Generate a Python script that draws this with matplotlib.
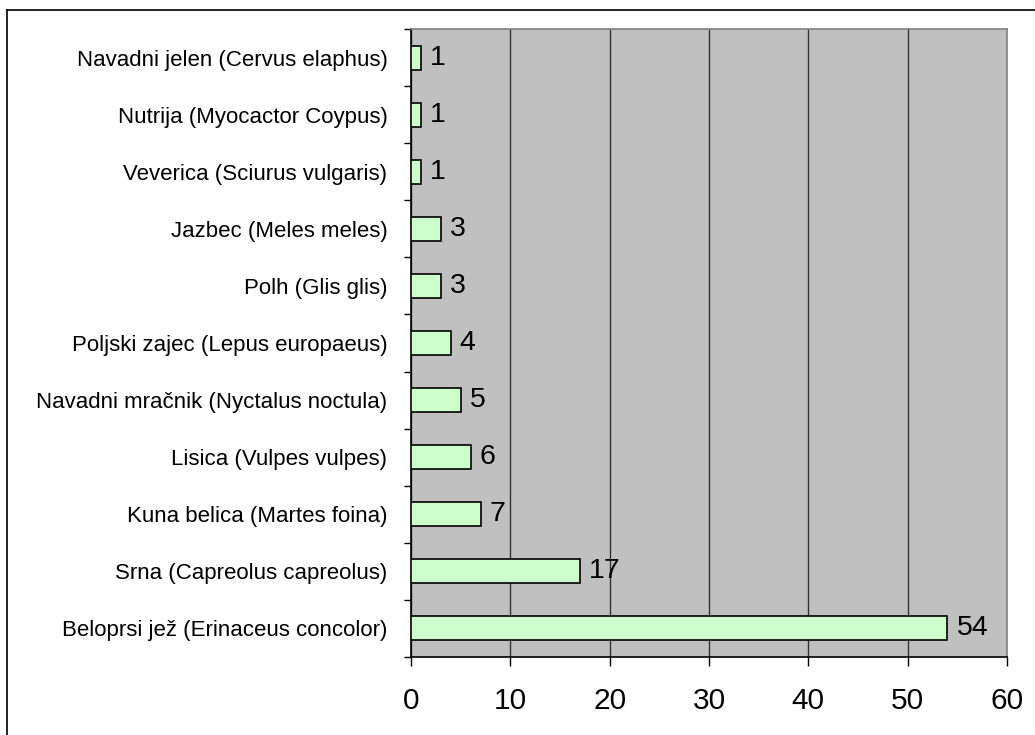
import numpy as np
from matplotlib import pyplot as plt, rcParams
from matplotlib.lines import Line2D

rcParams['font.family'] = ['Liberation Sans', 'DejaVu Sans']

# od spodaj navzgor
species = ['Beloprsi jež (Erinaceus concolor)', 'Srna (Capreolus capreolus)',
           'Kuna belica (Martes foina)', 'Lisica (Vulpes vulpes)',
           'Navadni mračnik (Nyctalus noctula)', 'Poljski zajec (Lepus europaeus)',
           'Polh (Glis glis)', 'Jazbec (Meles meles)', 'Veverica (Sciurus vulgaris)',
           'Nutrija (Myocactor Coypus)', 'Navadni jelen (Cervus elaphus)']
counts = [54, 17, 7, 6, 5, 4, 3, 3, 1, 1, 1]
xticks = [0, 10, 20, 30, 40, 50, 60]

fig = plt.figure(figsize=(10.35, 7.35), dpi=100)
ax = fig.add_axes([411 / 1035, 1 - 657 / 735, 596 / 1035, 628 / 735])
ax.set_facecolor('#C0C0C0')

y = np.arange(len(species))
ax.barh(y, counts, height=0.42, color='#CCFFCC', edgecolor='black', linewidth=1.2, zorder=3)
for yi, c in zip(y, counts):
    ax.annotate(str(c), (c, yi), xytext=(6.5, 0), textcoords='offset points',
                va='center', ha='left', fontsize=20.5, zorder=4)

ax.set_xlim(0, 60)
ax.set_ylim(-0.5, len(species) - 0.5)
ax.set_xticks(xticks)
ax.set_xticklabels([str(t) for t in xticks], fontsize=21.5)
ax.set_yticks(y)
ax.set_yticklabels(species, fontsize=16)
ax.set_yticks(np.arange(-0.5, len(species)), minor=True)
ax.tick_params(axis='y', which='major', length=0, pad=17)
ax.tick_params(axis='y', which='minor', length=5, width=1, direction='out')
ax.tick_params(axis='x', length=6.5, width=1, pad=15, direction='out')
ax.xaxis.grid(True, color='#333333', linewidth=1, zorder=1)
ax.set_axisbelow(True)

ax.spines['left'].set_color('black')
ax.spines['bottom'].set_color('black')
ax.spines['top'].set_color('#808080')
ax.spines['right'].set_color('#808080')
for s in ax.spines.values():
    s.set_linewidth(1.2)

# okvir grafa (levo in zgoraj)
fig.add_artist(Line2D([7 / 1035, 7 / 1035], [0, 1 - 10 / 735], color='black', linewidth=1.2))
fig.add_artist(Line2D([7 / 1035, 1], [1 - 10 / 735, 1 - 10 / 735], color='black', linewidth=1.2))

fig.savefig('out.png', dpi=100)
